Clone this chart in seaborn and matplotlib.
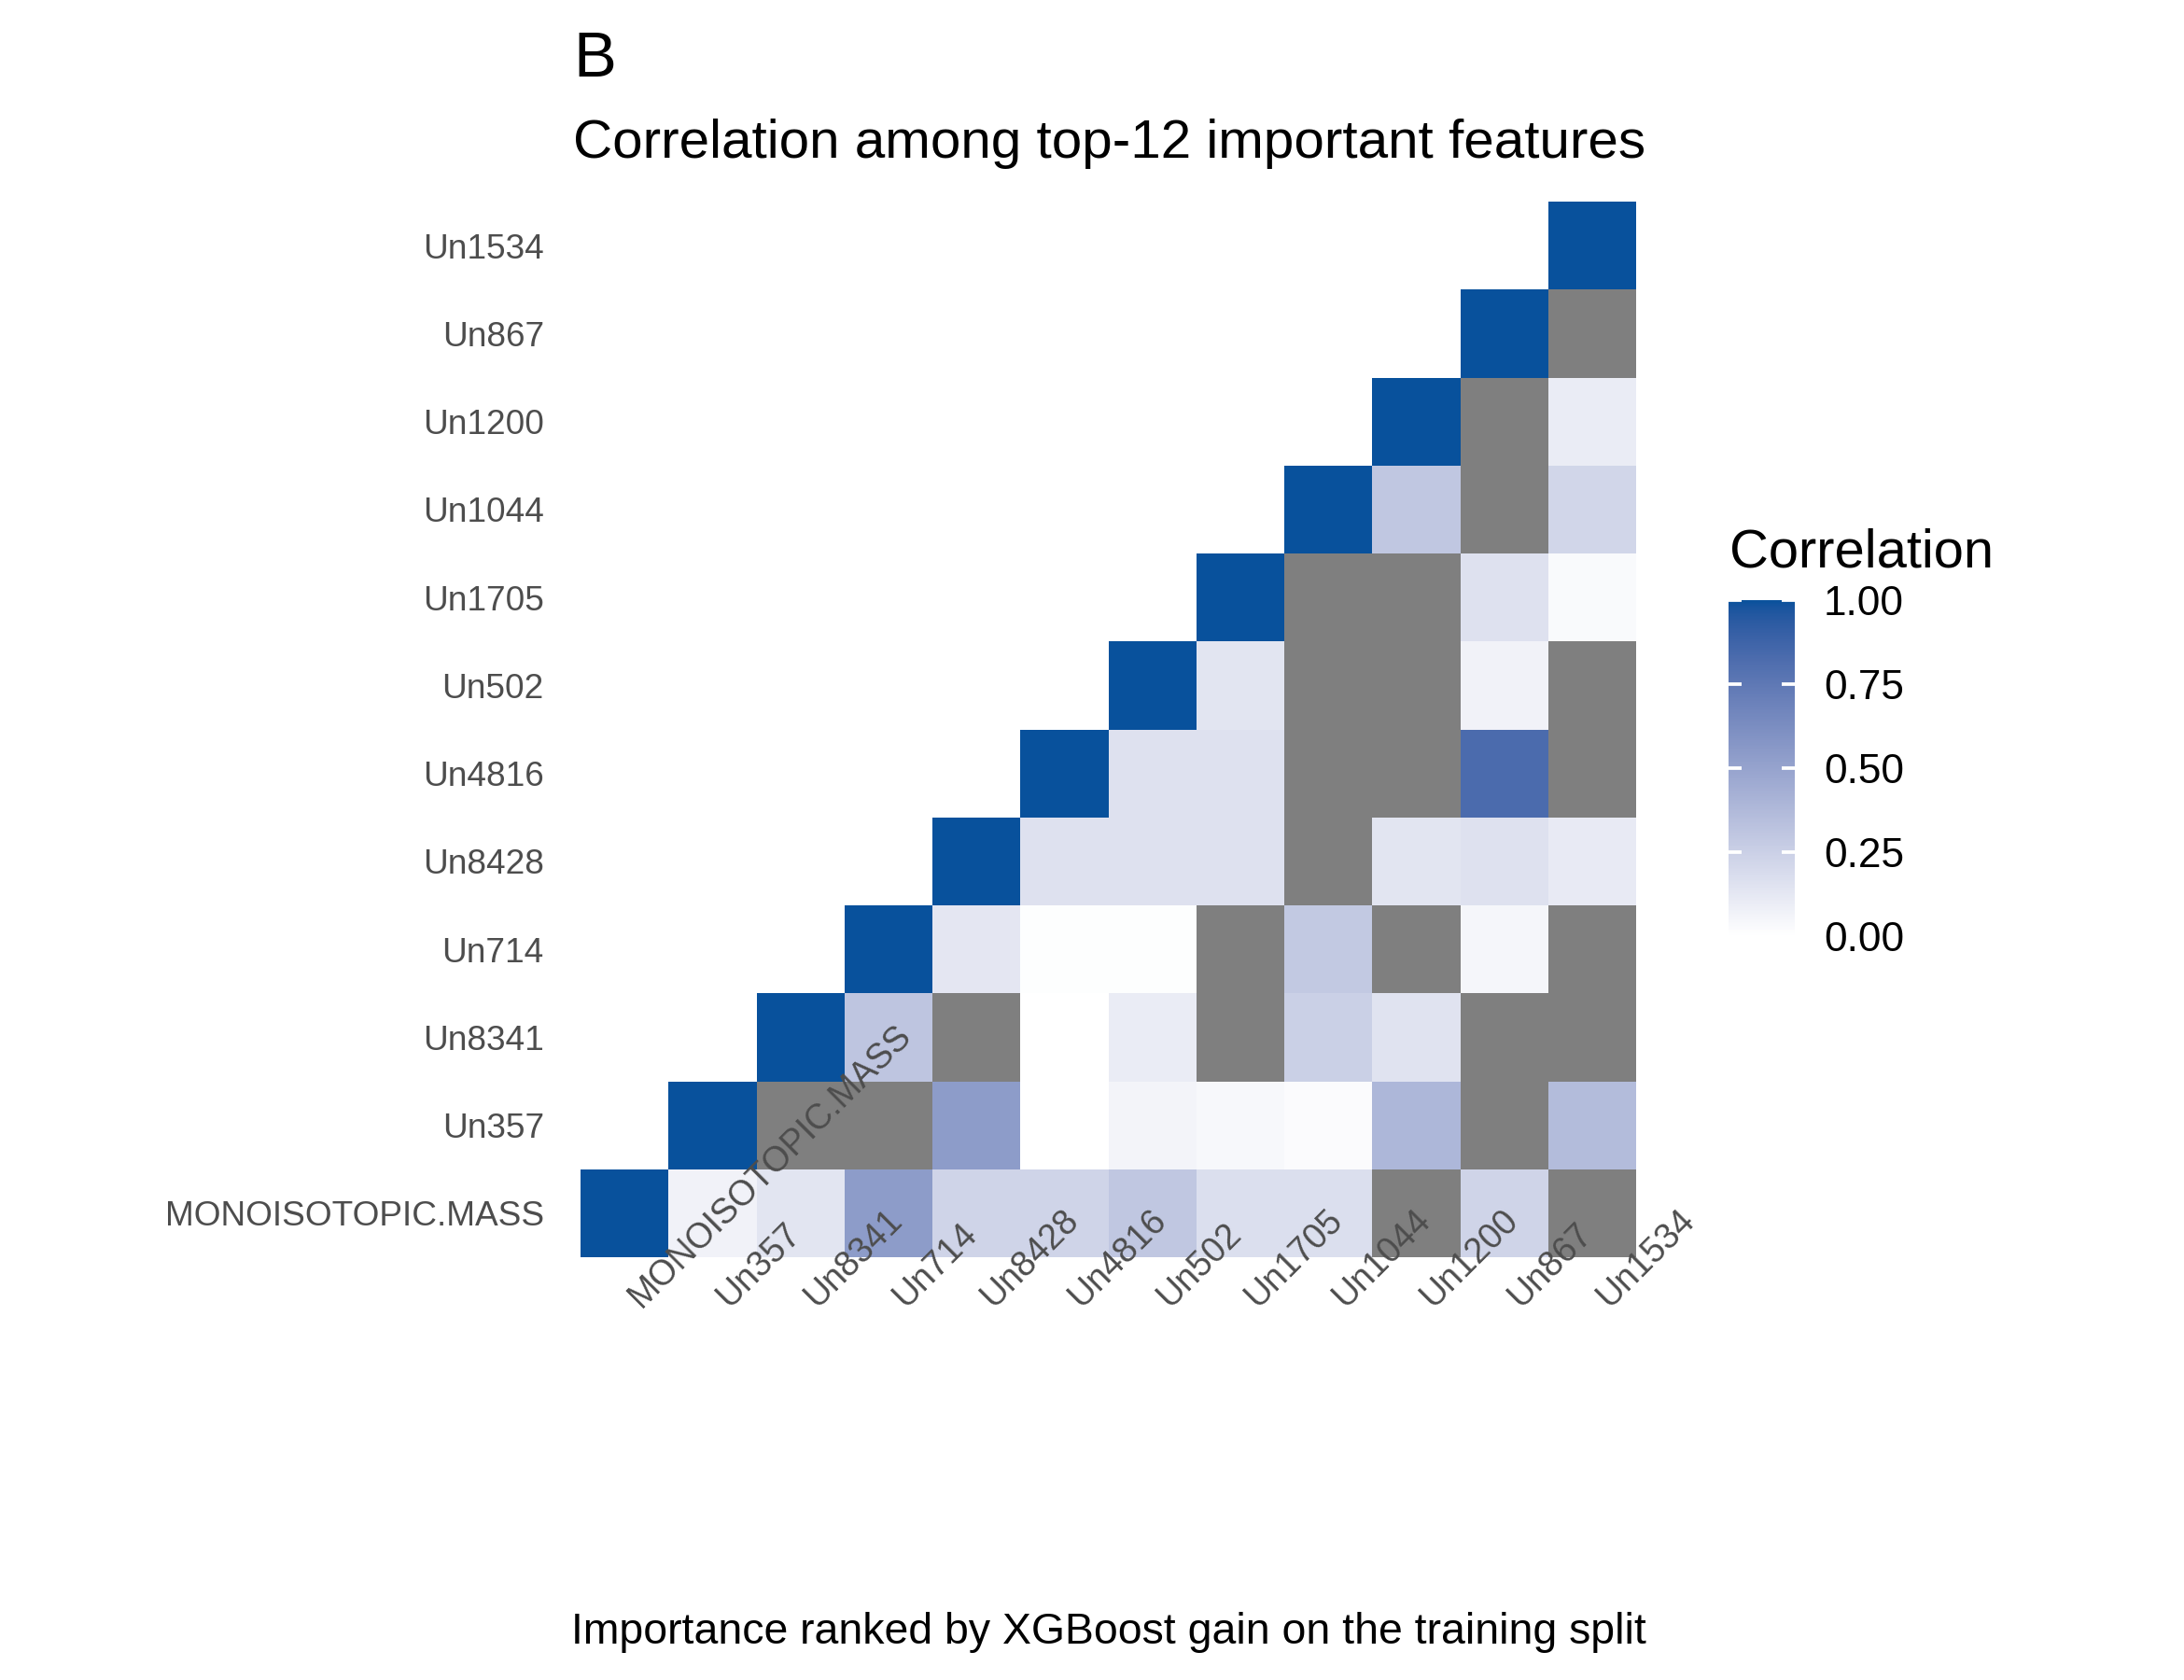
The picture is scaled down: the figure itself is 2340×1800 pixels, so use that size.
import numpy as np
import pandas as pd
import matplotlib
matplotlib.use("Agg")
import matplotlib.pyplot as plt
from matplotlib.colors import ListedColormap
from matplotlib.transforms import ScaledTranslation
import seaborn as sns

nan = np.nan

features = ["MONOISOTOPIC.MASS", "Un357", "Un8341", "Un714", "Un8428", "Un4816",
            "Un502", "Un1705", "Un1044", "Un1200", "Un867", "Un1534"]

# upper triangle, row i holds columns i..11 ; nan = outside 0..1 (shown grey)
r_mono = [1.00, 0.07, 0.14, 0.54, 0.23, 0.23, 0.30, 0.17, 0.17, nan, 0.23, nan]
r_357 = [1.00, nan, nan, 0.54, 0.00, 0.06, 0.04, 0.02, 0.39, nan, 0.36]
r_8341 = [1.00, 0.31, nan, 0.00, 0.10, nan, 0.25, 0.15, nan, nan]
r_714 = [1.00, 0.13, 0.01, 0.01, nan, 0.29, nan, 0.05, nan]
r_8428 = [1.00, 0.16, 0.16, 0.16, nan, 0.14, 0.16, 0.11]
r_4816 = [1.00, 0.16, 0.16, nan, nan, 0.83, nan]
r_502 = [1.00, 0.14, nan, nan, 0.07, nan]
r_1705 = [1.00, nan, nan, 0.16, 0.03]
r_1044 = [1.00, 0.30, nan, 0.22]
r_1200 = [1.00, nan, 0.10]
r_867 = [1.00, nan]
r_1534 = [1.00]
rows = [r_mono, r_357, r_8341, r_714, r_8428, r_4816, r_502, r_1705,
        r_1044, r_1200, r_867, r_1534]

cbar_ticks = [0.0, 0.25, 0.5, 0.75, 1.0]

n = len(features)
mat = np.full((n, n), nan)
upper = np.zeros((n, n), dtype=bool)
for i, r in enumerate(rows):
    mat[i, i:] = r
    upper[i, i:] = True

# y goes up in the original, so flip rows for the heatmap
df = pd.DataFrame(mat[::-1], index=features[::-1], columns=features)
up = upper[::-1]


# white -> #08519C blended in Lab, like ggplot's gradient
def srgb_to_lab(c):
    c = np.asarray(c, float)
    lin = np.where(c <= 0.04045, c / 12.92, ((c + 0.055) / 1.055) ** 2.4)
    M = np.array([[0.4124, 0.3576, 0.1805],
                  [0.2126, 0.7152, 0.0722],
                  [0.0193, 0.1192, 0.9505]])
    xyz = M @ lin / np.array([0.95047, 1.0, 1.08883])
    f = np.where(xyz > 0.008856, np.cbrt(xyz), 7.787 * xyz + 16 / 116)
    return np.array([116 * f[1] - 16, 500 * (f[0] - f[1]), 200 * (f[1] - f[2])])


def lab_to_srgb(lab):
    L, a, b = lab
    fy = (L + 16) / 116
    fx = fy + a / 500
    fz = fy - b / 200
    f = np.array([fx, fy, fz])
    xyz = np.where(f ** 3 > 0.008856, f ** 3, (f - 16 / 116) / 7.787)
    xyz = xyz * np.array([0.95047, 1.0, 1.08883])
    Minv = np.array([[3.2406, -1.5372, -0.4986],
                     [-0.9689, 1.8758, 0.0415],
                     [0.0557, -0.2040, 1.0570]])
    lin = Minv @ xyz
    c = np.where(lin <= 0.0031308, 12.92 * lin, 1.055 * np.clip(lin, 0, None) ** (1 / 2.4) - 0.055)
    return np.clip(c, 0, 1)


lo = srgb_to_lab([1, 1, 1])
hi = srgb_to_lab(np.array([0x08, 0x51, 0x9C]) / 255)
cmap = ListedColormap([lab_to_srgb(lo + (hi - lo) * t) for t in np.linspace(0, 1, 256)])

sns.set_style("white")
plt.rcParams["font.family"] = ["Liberation Sans", "DejaVu Sans"]

fig = plt.figure(figsize=(7.8, 6), dpi=300)
ax = fig.add_axes([622 / 2340, 1 - 1347 / 1800, 1131 / 2340, 1131 / 1800])
cax = fig.add_axes([1852 / 2340, 1 - 1003 / 1800, 71 / 2340, 360 / 1800])

# grey layer for the NA cells of the upper triangle
grey = pd.DataFrame(np.where(up & np.isnan(df.values), 1.0, nan),
                    index=df.index, columns=df.columns)
sns.heatmap(grey, ax=ax, cmap=ListedColormap(["#7F7F7F"]), cbar=False,
            mask=grey.isna(), square=False, xticklabels=features,
            yticklabels=features[::-1])
sns.heatmap(df, ax=ax, cmap=cmap, vmin=0, vmax=1, mask=~up | df.isna(),
            cbar_ax=cax, cbar_kws={"ticks": cbar_ticks},
            xticklabels=features, yticklabels=features[::-1])

# labels sit on top of the tiles, as in the original
ax.set_axisbelow(False)
ax.xaxis.set_zorder(5)
ax.set_xlabel("")
ax.set_ylabel("")
ax.tick_params(axis="x", length=0, pad=13.2, labelsize=9, labelcolor="#4D4D4D")
ax.tick_params(axis="y", length=0, pad=9.4, labelsize=8.9, labelcolor="#4D4D4D")
shift = ScaledTranslation(18 / 300, 0, fig.dpi_scale_trans)
for lab in ax.get_xticklabels():
    lab.set_rotation(45)
    lab.set_ha("left")
    lab.set_va("baseline")
    lab.set_rotation_mode("anchor")
    lab.set_transform(lab.get_transform() + shift)
down = ScaledTranslation(0, -4 / 300, fig.dpi_scale_trans)
for lab in ax.get_yticklabels():
    lab.set_rotation(0)
    lab.set_va("center")
    lab.set_transform(lab.get_transform() + down)

cb = ax.collections[-1].colorbar
cb.outline.set_visible(False)
cb.ax.tick_params(length=0, pad=7.4, labelsize=10.6, labelcolor="black")
cb.ax.set_yticklabels([f"{t:.2f}" for t in cbar_ticks])
cb.ax.hlines(cbar_ticks, 0, 0.2, colors="white", lw=0.9)
cb.ax.hlines(cbar_ticks, 0.8, 1, colors="white", lw=0.9)

fig.text(1853 / 2340, 1 - 608 / 1800, "Correlation", fontsize=13.9,
         va="baseline", color="black")
fig.text(614 / 2340, 1 - 82 / 1800, "B", fontsize=16.5, va="baseline",
         color="black")
fig.text(614 / 2340, 1 - 169 / 1800, "Correlation among top-12 important features",
         fontsize=14, va="baseline", color="black")
fig.text(612 / 2340, 1 - 1761 / 1800,
         "Importance ranked by XGBoost gain on the training split",
         fontsize=11.15, va="baseline", color="black")

fig.savefig("out.png", dpi=300, facecolor="white")
